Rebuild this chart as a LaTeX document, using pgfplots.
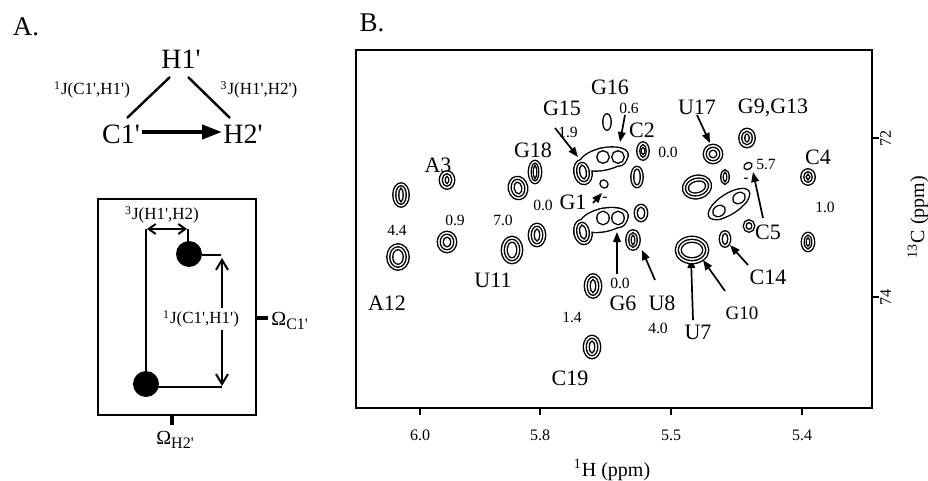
\documentclass[border=0pt]{standalone}
\usepackage{fontspec}
\setmainfont{Liberation Serif}
\usepackage{pgfplots}
\usepackage{pgfplotstable}
\pgfplotsset{compat=1.18}
\usetikzlibrary{arrows.meta}

\newcommand\fs[1]{\fontsize{#1}{#1}\selectfont}
\newcommand\q{\textquotesingle}

% peak centres and half widths (pixels of the scan), tilt (deg), number of contours
\pgfplotstableread{
x    y    rx    ry    rot  n
401  195  7.5   11.5  0    3
447  180  7     8.5   0    3
398  257  10.5  12.5  0    3
447  242  9     10    0    3
518  188  9     11    10   3
535  172  6     11    0    3
512  250  10    13    0    3
537  235  8     11    0    3
583  172  8.5   12    10   3
604  159  24    10.5  12   1
603  157  8.5   8.5   0    2
618  157  8.5   8.5   0    2
607  122  3.5   7.5   0    1
643  151  5.5   8.5   0    3
637  177  5.5   10    0    2
604  184  3     3.5   45   1
583  232  8.5   12    10   3
604  220  24    11    12   1
603  218  8.5   9     0    2
618  218  8.5   9     0    2
641  213  6     8     0    2
633  240  6.5   9.5   0    3
593  286  8     11.5  0    3
592  347  8     11    0    3
713  154  9     9     0    3
725  177  3.5   6.5   0    2
697  187  14    11    15   3
747  138  7.5   9     0    3
748  166  3.5   2.5   30   1
729  204  23    9.5   33   1
739  198  9     7.5   33   2
719  211  9     7.5   33   2
749  226  5     5.5   0    2
725  239  5     7.5   0    2
808  177  6.5   7.5   0    3
808  242  6     9     0    3
692  250  16    13    0    3
}\peaks

% contour mark: name, inset of this contour (pixels), fewest contours needed, path use
\newcommand\declarering[4]{%
  \pgfdeclareplotmark{#1}{%
    \pgfkeys{/pgf/fpu=false}%
    \pgfmathtruncatemacro\ok{\nring>=#3}%
    \ifnum\ok=1
      \pgfscope
      \pgfmathsetlengthmacro\ax{max(\rx-#2,1)*0.5pt}%
      \pgfmathsetlengthmacro\ay{max(\ry-#2,1)*0.5pt}%
      \pgftransformrotate{\rot}%
      \pgfpathellipse{\pgfpointorigin}{\pgfpoint{\ax}{0pt}}{\pgfpoint{0pt}{\ay}}%
      #4%
      \endpgfscope
    \fi}}
\newcommand\strk{\pgfsetstrokecolor{black}\pgfsetlinewidth{1.4pt}\pgfusepath{stroke}}
\newcommand\wfill{\pgfsetfillcolor{white}\pgfusepath{fill}}
\declarering{ringAs}{0}{1}{\strk}
\declarering{ringAf}{0}{1}{\wfill}
\declarering{ringBs}{3}{2}{\strk}
\declarering{ringBf}{3}{2}{\wfill}
\declarering{ringCs}{6}{3}{\strk}
\declarering{ringCf}{6}{3}{\wfill}

\pgfplotsset{peak/.style={only marks, black, mark=#1,
  visualization depends on={\thisrow{rx}\as\rx},
  visualization depends on={\thisrow{ry}\as\ry},
  visualization depends on={\thisrow{rot}\as\rot},
  visualization depends on={\thisrow{n}\as\nring}}}

\tikzset{arr/.style={line width=0.85pt, -{Triangle[length=5pt,width=3.8pt]}},
  big/.style={font=\fs{11}, inner sep=0pt},
  sml/.style={font=\fs{7.8}, inner sep=0pt}}

\begin{document}
\begin{tikzpicture}

% ---- panel A ----
\node[font=\fs{13.5}] at (13pt,-13.5pt) {A.};
\begin{scope}[x=0.5pt, y=-0.5pt]
  \node[font=\fs{14}] at (181,59) {H1\q};
  \node[font=\fs{14}] at (121,134) {C1\q};
  \node[font=\fs{14}] at (243,134) {H2\q};
  \draw[line width=1.2pt] (170,77) -- (127,118);
  \draw[line width=1.2pt] (188,77) -- (230,118);
  \draw[line width=2pt, -{Triangle[length=10pt,width=7pt]}] (142,132) -- (222,132);
  \node[font=\fs{8.5}] at (92,90) {\textsuperscript{1}J(C1\q,H1\q)};
  \node[font=\fs{8.5}] at (259,90) {\textsuperscript{3}J(H1\q,H2\q)};

  \draw[line width=1.2pt] (98,199) rectangle (256,415);
  \draw[line width=1.6pt] (172,415) -- (172,425);
  \draw[line width=1.6pt] (256,318) -- (268,318);
  \node[font=\fs{10}] at (175,440) {Ω\raisebox{-0.4ex}{\fs{8}H2\q}};
  \node[font=\fs{10}, anchor=west, inner sep=0pt] at (271,321) {Ω\raisebox{-0.4ex}{\fs{8}C1\q}};

  \draw[line width=1pt] (146,384) -- (146,229);
  \draw[line width=1pt, {Straight Barb[length=3.5pt,width=5pt]}-{Straight Barb[length=3.5pt,width=5pt]}] (147,229) -- (187,229);
  \draw[line width=1pt] (188,229) -- (188,244);
  \draw[line width=1pt] (202,255) -- (221,255);
  \draw[line width=1pt] (158,387) -- (222,387);
  \draw[line width=1pt, {Straight Barb[length=5pt,width=6pt]}-{Straight Barb[length=5pt,width=6pt]}] (222,258) -- (222,386);
  \fill (189,254) circle[radius=6.5pt];
  \fill (146,384) circle[radius=6.5pt];
  \node[font=\fs{8.5}, fill=white, inner sep=1pt] at (201,319) {\textsuperscript{1}J(C1\q,H1\q)};
  \node[font=\fs{8.5}] at (162,215) {\textsuperscript{3}J(H1\q,H2)};
\end{scope}

% ---- panel B ----
\node[font=\fs{13.5}] at (186pt,-11.5pt) {B.};
\begin{axis}[at={(178pt,-204pt)}, anchor=south west, scale only axis,
  width=258pt, height=179pt,
  xmin=356, xmax=872, ymin=50, ymax=408, y dir=reverse,
  axis line style={line width=1.2pt},
  xtick={420,540,671,802}, xticklabels={6.0,5.8,5.5,5.4},
  ytick={138,297}, yticklabels={72,74},
  xtick pos=left, ytick pos=right, yticklabel pos=right,
  tick align=outside, major tick length=3.5pt,
  tick style={line width=1.1pt, black},
  xticklabel style={font=\fs{8}, yshift=-4pt},
  yticklabel style={font=\fs{8}, rotate=90, anchor=north, inner sep=0.5pt},
  /pgf/number format/assume math mode=true,
  clip=false]

\addplot[peak=ringAs] table {\peaks};
\addplot[peak=ringAf] table {\peaks};
\addplot[peak=ringBs] table {\peaks};
\addplot[peak=ringBf] table {\peaks};
\addplot[peak=ringCs] table {\peaks};
\addplot[peak=ringCf] table {\peaks};

\node[big] at (axis cs:610,87) {G16};
\node[big] at (axis cs:562,108) {G15};
\node[big] at (axis cs:642,130) {C2};
\node[big] at (axis cs:533,150) {G18};
\node[big] at (axis cs:438,165) {A3};
\node[big] at (axis cs:573,202) {G1};
\node[big] at (axis cs:697,107) {U17};
\node[big] at (axis cs:773,108) {G9,G13};
\node[big] at (axis cs:818,157) {C4};
\node[big] at (axis cs:768,232) {C5};
\node[big] at (axis cs:493,280) {U11};
\node[big] at (axis cs:387,303) {A12};
\node[big] at (axis cs:623,303) {G6};
\node[big] at (axis cs:570,378) {C19};
\node[big] at (axis cs:662,303) {U8};
\node[big] at (axis cs:698,332) {U7};
\node[big, font=\fs{9.5}] at (axis cs:742,313) {G10};
\node[big] at (axis cs:768,277) {C14};

\node[sml] at (axis cs:568,132) {1.9};
\node[sml] at (axis cs:629,108) {0.6};
\node[sml] at (axis cs:668,152) {0.0};
\node[sml] at (axis cs:543,205) {0.0};
\node[sml] at (axis cs:455,220) {0.9};
\node[sml] at (axis cs:503,220) {7.0};
\node[sml] at (axis cs:397,230) {4.4};
\node[sml] at (axis cs:766,165) {5.7};
\node[sml] at (axis cs:825,207) {1.0};
\node[sml] at (axis cs:572,317) {1.4};
\node[sml] at (axis cs:620,283) {0.0};
\node[sml] at (axis cs:658,328) {4.0};
\node[sml] at (axis cs:605,199) {-};
\node[sml] at (axis cs:746,180) {-};

\draw[arr] (axis cs:555,128) -- (axis cs:578,157);
\draw[arr] (axis cs:625,115) -- (axis cs:620,142);
\draw[arr] (axis cs:593,203) -- (axis cs:602,193);
\draw[arr] (axis cs:617,274) -- (axis cs:617,232);
\draw[arr] (axis cs:655,280) -- (axis cs:642,250);
\draw[arr] (axis cs:693,320) -- (axis cs:691,258);
\draw[arr] (axis cs:725,291) -- (axis cs:703,260);
\draw[arr] (axis cs:748,265) -- (axis cs:730,245);
\draw[arr] (axis cs:763,218) -- (axis cs:753,172);
\draw[arr] (axis cs:697,115) -- (axis cs:710,143);
\end{axis}

\node[font=\fs{10}] at (306pt,-235pt) {\textsuperscript{1}H (ppm)};
\node[font=\fs{10}, rotate=90] at (459pt,-108.5pt) {\textsuperscript{13}C (ppm)};

\pgfresetboundingbox
\path[use as bounding box] (0pt,0pt) rectangle (464pt,-240.5pt);
\end{tikzpicture}
\end{document}
